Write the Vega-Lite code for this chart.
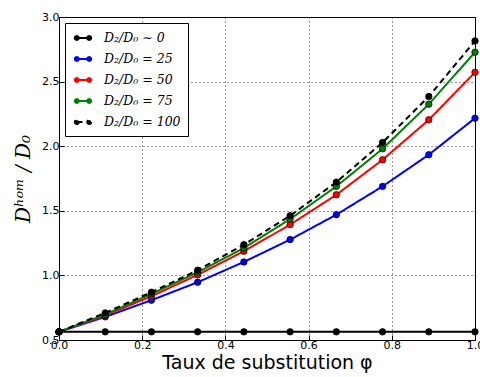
{
  "$schema": "https://vega.github.io/schema/vega-lite/v6.json",
  "autosize": {"type": "none"},
  "padding": {"left": 59, "top": 17, "right": 5, "bottom": 37},
  "width": 416,
  "height": 323,
  "background": "white",
  "config": {
    "view": {"stroke": "black", "strokeWidth": 1},
    "axis": {
      "labelFont": "DejaVu Sans", "labelFontSize": 11, "labelColor": "black", "labelFlush": false, "labelOverlap": false,
      "grid": true, "gridColor": "black", "gridDash": [1, 3], "gridOpacity": 1, "gridWidth": 0.8,
      "domain": false, "tickColor": "black", "tickSize": -5, "tickWidth": 1,
      "titleColor": "black", "titleFontWeight": "normal"
    }
  },
  "data": {"values": [
    {"x": 0, "y": 0.563, "s": "D₂/D₀ ∼ 0"},
    {"x": 0.1111, "y": 0.563, "s": "D₂/D₀ ∼ 0"},
    {"x": 0.2222, "y": 0.563, "s": "D₂/D₀ ∼ 0"},
    {"x": 0.3333, "y": 0.563, "s": "D₂/D₀ ∼ 0"},
    {"x": 0.4444, "y": 0.563, "s": "D₂/D₀ ∼ 0"},
    {"x": 0.5556, "y": 0.563, "s": "D₂/D₀ ∼ 0"},
    {"x": 0.6667, "y": 0.563, "s": "D₂/D₀ ∼ 0"},
    {"x": 0.7778, "y": 0.563, "s": "D₂/D₀ ∼ 0"},
    {"x": 0.8889, "y": 0.563, "s": "D₂/D₀ ∼ 0"},
    {"x": 1, "y": 0.563, "s": "D₂/D₀ ∼ 0"},
    {"x": 0, "y": 0.563, "s": "D₂/D₀ = 25"},
    {"x": 0.1111, "y": 0.679, "s": "D₂/D₀ = 25"},
    {"x": 0.2222, "y": 0.808, "s": "D₂/D₀ = 25"},
    {"x": 0.3333, "y": 0.947, "s": "D₂/D₀ = 25"},
    {"x": 0.4444, "y": 1.104, "s": "D₂/D₀ = 25"},
    {"x": 0.5556, "y": 1.277, "s": "D₂/D₀ = 25"},
    {"x": 0.6667, "y": 1.470, "s": "D₂/D₀ = 25"},
    {"x": 0.7778, "y": 1.689, "s": "D₂/D₀ = 25"},
    {"x": 0.8889, "y": 1.934, "s": "D₂/D₀ = 25"},
    {"x": 1, "y": 2.217, "s": "D₂/D₀ = 25"},
    {"x": 0, "y": 0.563, "s": "D₂/D₀ = 50"},
    {"x": 0.1111, "y": 0.689, "s": "D₂/D₀ = 50"},
    {"x": 0.2222, "y": 0.839, "s": "D₂/D₀ = 50"},
    {"x": 0.3333, "y": 1.004, "s": "D₂/D₀ = 50"},
    {"x": 0.4444, "y": 1.187, "s": "D₂/D₀ = 50"},
    {"x": 0.5556, "y": 1.393, "s": "D₂/D₀ = 50"},
    {"x": 0.6667, "y": 1.624, "s": "D₂/D₀ = 50"},
    {"x": 0.7778, "y": 1.895, "s": "D₂/D₀ = 50"},
    {"x": 0.8889, "y": 2.204, "s": "D₂/D₀ = 50"},
    {"x": 1, "y": 2.572, "s": "D₂/D₀ = 50"},
    {"x": 0, "y": 0.563, "s": "D₂/D₀ = 75"},
    {"x": 0.1111, "y": 0.697, "s": "D₂/D₀ = 75"},
    {"x": 0.2222, "y": 0.857, "s": "D₂/D₀ = 75"},
    {"x": 0.3333, "y": 1.024, "s": "D₂/D₀ = 75"},
    {"x": 0.4444, "y": 1.212, "s": "D₂/D₀ = 75"},
    {"x": 0.5556, "y": 1.436, "s": "D₂/D₀ = 75"},
    {"x": 0.6667, "y": 1.689, "s": "D₂/D₀ = 75"},
    {"x": 0.7778, "y": 1.980, "s": "D₂/D₀ = 75"},
    {"x": 0.8889, "y": 2.325, "s": "D₂/D₀ = 75"},
    {"x": 1, "y": 2.727, "s": "D₂/D₀ = 75"},
    {"x": 0, "y": 0.563, "s": "D₂/D₀ = 100"},
    {"x": 0.1111, "y": 0.710, "s": "D₂/D₀ = 100"},
    {"x": 0.2222, "y": 0.870, "s": "D₂/D₀ = 100"},
    {"x": 0.3333, "y": 1.040, "s": "D₂/D₀ = 100"},
    {"x": 0.4444, "y": 1.238, "s": "D₂/D₀ = 100"},
    {"x": 0.5556, "y": 1.462, "s": "D₂/D₀ = 100"},
    {"x": 0.6667, "y": 1.722, "s": "D₂/D₀ = 100"},
    {"x": 0.7778, "y": 2.029, "s": "D₂/D₀ = 100"},
    {"x": 0.8889, "y": 2.384, "s": "D₂/D₀ = 100"},
    {"x": 1, "y": 2.815, "s": "D₂/D₀ = 100"}
  ]},
  "encoding": {
    "x": {"field": "x", "type": "quantitative",
      "scale": {"domain": [0, 1], "nice": false},
      "axis": {"values": [0, 0.2, 0.4, 0.6, 0.8, 1.0], "format": ".1f", "labelPadding": 4,
        "title": "Taux de substitution φ", "titleFont": "DejaVu Sans", "titleFontSize": 19, "titlePadding": 3}},
    "y": {"field": "y", "type": "quantitative",
      "scale": {"domain": [0.5, 3.0], "nice": false},
      "axis": {"values": [0.5, 1.0, 1.5, 2.0, 2.5, 3.0], "format": ".1f", "labelPadding": 5,
        "title": "Dʰᵒᵐ / D₀", "titleFont": "DejaVu Serif", "titleFontStyle": "italic", "titleFontSize": 20, "titlePadding": 8}},
    "color": {"field": "s", "type": "nominal",
      "scale": {"domain": ["D₂/D₀ ∼ 0", "D₂/D₀ = 25", "D₂/D₀ = 50", "D₂/D₀ = 75", "D₂/D₀ = 100"],
        "range": ["#000000", "#0000ff", "#ff0000", "#008000", "#000000"]},
      "legend": {"title": null, "orient": "top-left", "offset": 6,
        "strokeColor": "black", "fillColor": "white", "padding": 7, "rowPadding": 6,
        "labelFont": "DejaVu Serif", "labelFontStyle": "italic", "labelFontSize": 12.5, "labelColor": "black",
        "symbolType": "M-1,0L1,0M-1.25,0a0.3,0.3 0 1,0 0.6,0a0.3,0.3 0 1,0 -0.6,0M0.65,0a0.3,0.3 0 1,0 0.6,0a0.3,0.3 0 1,0 -0.6,0",
        "symbolSize": 170, "symbolStrokeWidth": 2, "symbolOffset": 3, "labelOffset": 13}}
  },
  "layer": [
    {"mark": {"type": "line", "strokeWidth": 2},
     "encoding": {
       "strokeDash": {"field": "s", "type": "nominal",
         "scale": {"domain": ["D₂/D₀ ∼ 0", "D₂/D₀ = 25", "D₂/D₀ = 50", "D₂/D₀ = 75", "D₂/D₀ = 100"],
           "range": [[1, 0], [1, 0], [1, 0], [1, 0], [6, 4]]},
         "legend": {"title": null}}
     }},
    {"mark": {"type": "circle", "size": 42, "opacity": 1, "stroke": "black", "strokeWidth": 0.7},
     "encoding": {"fill": {"field": "s", "type": "nominal",
        "scale": {"domain": ["D₂/D₀ ∼ 0", "D₂/D₀ = 25", "D₂/D₀ = 50", "D₂/D₀ = 75", "D₂/D₀ = 100"],
          "range": ["#000000", "#0000ff", "#ff0000", "#008000", "#000000"]},
        "legend": {"title": null}}}}
  ]
}
